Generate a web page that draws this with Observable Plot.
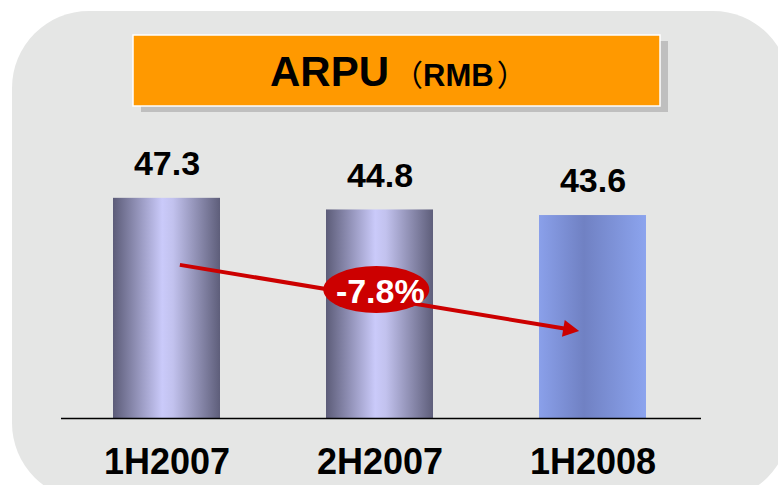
<!DOCTYPE html>
<html><head><meta charset="utf-8">
<script src="https://cdn.jsdelivr.net/npm/d3@7"></script>
<script src="https://cdn.jsdelivr.net/npm/@observablehq/plot@0.6"></script>
<style>html,body{margin:0;padding:0;background:#fff;}</style>
</head><body><div id="chart"></div>
<script>
// ---- data ----
const categories = ["1H2007", "2H2007", "1H2008"];
const values = [47.3, 44.8, 43.6];
const changeLabel = "-7.8%";
const titleMain = "ARPU";
const titleUnit = "RMB";
// arrow annotation endpoints in value units
const arrowFromValue = 32.9;
const arrowToValue = 18.7;
const badgeValue = 27.6;

const data = categories.map((c, i) => ({category: c, value: values[i]}));

const FONT = "'Liberation Sans', Arial, Helvetica, 'Noto Sans CJK SC', sans-serif";
const W = 778, H = 485;
const latest = categories[categories.length - 1];

const plot = Plot.plot({
  width: W, height: H,
  marginTop: 185.25, marginBottom: 67, marginLeft: 6, marginRight: 25,
  style: {background: "transparent", fontFamily: FONT},
  x: {domain: categories, padding: 0.5, label: null},
  y: {domain: [0, 50], axis: null},
  marks: [
    Plot.barY(data, {x: "category", y: "value",
      fill: d => d.category === latest ? "url(#barFlat)" : "url(#barShade)"}),
    Plot.ruleY([0], {stroke: "#000", strokeWidth: 1.5, insetLeft: 55, insetRight: 52}),
    Plot.text(data, {x: "category", y: "value", text: d => d.value.toFixed(1),
      dy: -34, fontSize: 34, fontWeight: "bold", fill: "#000"}),
    Plot.axisX({tickSize: 0, tickPadding: 30, fontSize: 36, fontWeight: "bold", label: null, fill: "#000"})
  ]
});

const svg = d3.select(plot);
const defs = svg.insert("defs", ":first-child");
const g1 = defs.append("linearGradient").attr("id", "barShade").attr("x1", 0).attr("x2", 1).attr("y1", 0).attr("y2", 0);
[[0, "#5c5c78"], [0.46, "#cacafa"], [0.56, "#c2c2ee"], [1, "#5e5e7a"]].forEach(([o, c]) =>
  g1.append("stop").attr("offset", o).attr("stop-color", c));
const g2 = defs.append("linearGradient").attr("id", "barFlat").attr("x1", 0).attr("x2", 1).attr("y1", 0).attr("y2", 0);
[[0, "#8aa0ea"], [0.42, "#7081c3"], [1, "#8ca4ee"]].forEach(([o, c]) =>
  g2.append("stop").attr("offset", o).attr("stop-color", c));

// background panel + title box (behind everything)
const bg = svg.insert("g", "defs + *");
bg.append("rect").attr("x", 12).attr("y", 11).attr("width", 778).attr("height", 489)
  .attr("rx", 77).attr("fill", "#e5e6e5");
bg.append("rect").attr("x", 141).attr("y", 41).attr("width", 527).attr("height", 71).attr("fill", "#bfbfbf");
bg.append("rect").attr("x", 133).attr("y", 35).attr("width", 527).attr("height", 71)
  .attr("fill", "#ff9900").attr("stroke", "#fff").attr("stroke-width", 1.5);
const t = bg.append("text").attr("x", 270).attr("y", 85.5).attr("text-anchor", "start")
  .attr("font-family", FONT).attr("font-weight", "bold").attr("fill", "#000");
t.append("tspan").attr("font-size", 42).text(titleMain);
t.append("tspan").attr("font-size", 30).attr("font-weight", "normal").attr("dx", 4).text("（");
t.append("tspan").attr("font-size", 31).text(titleUnit);
t.append("tspan").attr("font-size", 30).attr("font-weight", "normal").attr("dx", 3).text("）");

// arrow + badge annotation
const xs = plot.scale("x"), ys = plot.scale("y");
const bw = xs.bandwidth;
const ax1 = xs.apply(categories[0]) + bw * 0.625, ay1 = ys.apply(arrowFromValue);
const ax2 = xs.apply(categories[2]) + bw * 0.375, ay2 = ys.apply(arrowToValue);
const ang = Math.atan2(ay2 - ay1, ax2 - ax1);
const hl = 16, hw = 8.5;
const bx = ax2 - hl * Math.cos(ang), by = ay2 - hl * Math.sin(ang);
const px = -Math.sin(ang), py = Math.cos(ang);
const ann = svg.append("g");
ann.append("line").attr("x1", ax1).attr("y1", ay1).attr("x2", bx + Math.cos(ang)).attr("y2", by + Math.sin(ang))
  .attr("stroke", "#cc0000").attr("stroke-width", 4);
ann.append("path").attr("d", `M${ax2},${ay2}L${bx + hw * px},${by + hw * py}L${bx - hw * px},${by - hw * py}Z`)
  .attr("fill", "#cc0000");
const cx = xs.apply(categories[1]) + bw * 0.47, cy = ys.apply(badgeValue);
ann.append("ellipse").attr("cx", cx).attr("cy", cy).attr("rx", 53).attr("ry", 23.5).attr("fill", "#cc0000");
ann.append("text").attr("x", cx + 4).attr("y", cy + 13).attr("text-anchor", "middle")
  .attr("font-family", FONT).attr("font-weight", "bold").attr("font-size", 34).attr("fill", "#fff")
  .text(changeLabel);

document.getElementById("chart").appendChild(plot);
</script>
</body></html>
